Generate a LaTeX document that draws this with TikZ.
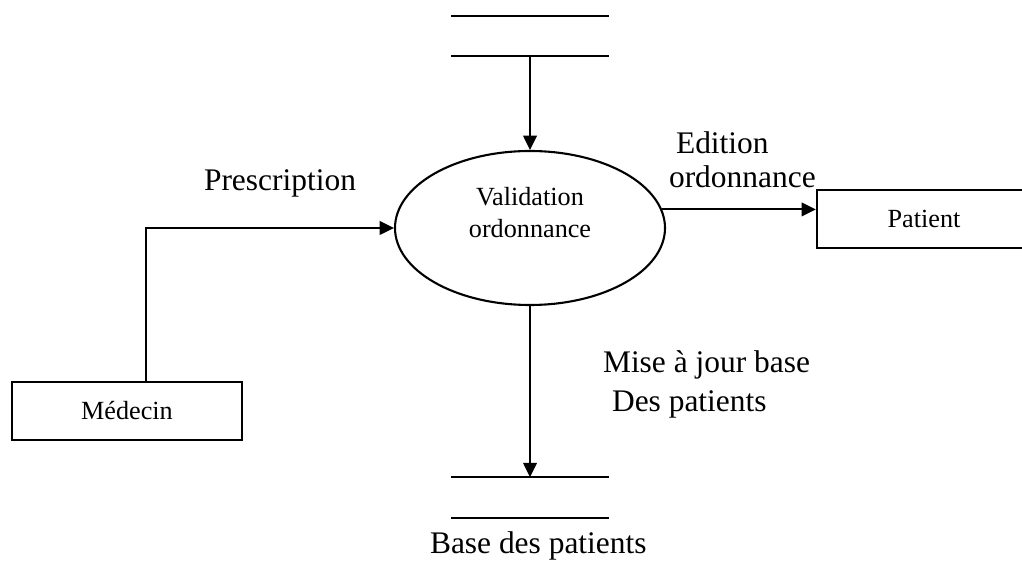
\documentclass[tikz,border=0pt]{standalone}
\usepackage{fontspec}
\setmainfont{Liberation Serif}
\usetikzlibrary{shapes.geometric,arrows.meta,calc}
\begin{document}
\begin{tikzpicture}[x=0.3817pt,y=-0.3817pt,
  line width=0.8pt,
  flow/.style={-{Triangle[length=5.5pt,width=5.2pt]}},
  entity/.style={draw,rectangle,inner sep=0pt,minimum height=22.1pt,font=\fontsize{10}{12}\selectfont},
  procnode/.style={draw,ellipse,inner sep=0pt,minimum width=103.06pt,minimum height=58.78pt},
  storenode/.style={rectangle,inner sep=0pt,minimum width=59.2pt,minimum height=14.7pt},
  biglabel/.style={inner sep=0pt,font=\fontsize{12}{14}\selectfont,anchor=base west},
  smalltext/.style={inner sep=0pt,font=\fontsize{10}{12}\selectfont,anchor=base}]
\useasboundingbox (0,0) rectangle (1022,562);
% nodes
\node[procnode] (proc) at (530,228) {};
\node[smalltext] (proct1) at (530,206) {Validation};
\node[smalltext] (proct2) at (530,238) {ordonnance};
\node[entity,minimum width=87.8pt] (med) at (127,411) {Médecin};
\node[entity,minimum width=81.7pt] (pat) at (924,219) {Patient};
\node[storenode] (s1) at (530,36) {};
\node[storenode] (s2) at (530,497.5) {};
% stores
\draw (s1.north west) -- (s1.north east);
\draw (s1.south west) -- (s1.south east);
\draw (s2.north west) -- (s2.north east);
\draw (s2.south west) -- (s2.south east);
% connectors
\draw[flow] (s1.south) -- (proc.north);
\draw[flow] ($(med.north)+(19,0)$) |- (proc.west);
\draw[flow] (proc.8) -- (proc.8 -| pat.west);
\draw[flow] (proc.south) -- (s2.north);
% labels
\node[biglabel] (lpresc) at (203,191) {Prescription};
\node[biglabel] (ledit1) at (675,154) {Edition};
\node[biglabel] (ledit2) at (668,188) {ordonnance};
\node[biglabel] (lmaj1) at (602,373) {Mise à jour base};
\node[biglabel] (lmaj2) at (611,412) {Des patients};
\node[biglabel] (lbase) at (429,554) {Base des patients};
\end{tikzpicture}
\end{document}
